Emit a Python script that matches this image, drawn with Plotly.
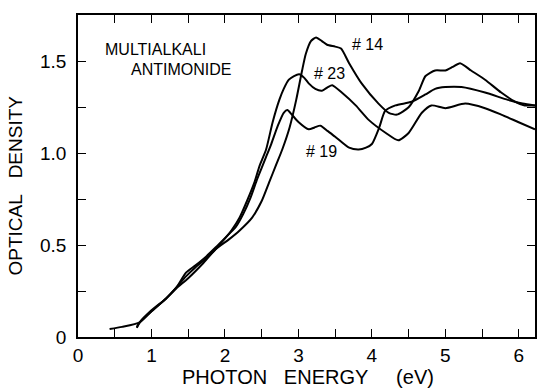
import plotly.graph_objects as go

# Photon energy (eV) and optical density for three samples
x14 = [0.80, 0.84, 1.0, 1.2, 1.34, 1.5, 1.7, 1.88, 2.05, 2.2, 2.37, 2.5, 2.6, 2.7, 2.78, 2.88, 2.97,
       3.05, 3.1, 3.17, 3.24, 3.32, 3.39, 3.5, 3.58, 3.69, 3.86, 4.09, 4.23, 4.34, 4.5, 4.64, 4.73,
       4.86, 5.0, 5.1, 5.2, 5.35, 5.54, 5.76, 5.95, 6.08, 6.22]
y14 = [0.055, 0.08, 0.14, 0.21, 0.265, 0.32, 0.40, 0.48, 0.53, 0.58, 0.65, 0.74, 0.84, 0.94, 1.02,
       1.14, 1.29, 1.45, 1.54, 1.61, 1.63, 1.61, 1.59, 1.58, 1.57, 1.49, 1.38, 1.27, 1.22, 1.21,
       1.25, 1.34, 1.42, 1.45, 1.45, 1.47, 1.49, 1.45, 1.40, 1.33, 1.28, 1.26, 1.26]

x23 = [0.43, 0.6, 0.84, 1.0, 1.2, 1.34, 1.47, 1.6, 1.75, 1.88, 2.03, 2.09, 2.2, 2.3, 2.4, 2.47,
       2.56, 2.65, 2.74, 2.8, 2.87, 2.94, 3.01, 3.08, 3.14, 3.23, 3.32, 3.4, 3.46, 3.59, 3.78,
       3.96, 4.19, 4.36, 4.5, 4.68, 4.81, 5.0, 5.27, 5.54, 5.76, 5.99, 6.22]
y23 = [0.043, 0.055, 0.08, 0.14, 0.21, 0.27, 0.35, 0.39, 0.44, 0.49, 0.55, 0.58, 0.65, 0.74, 0.84,
       0.93, 1.02, 1.17, 1.29, 1.35, 1.40, 1.42, 1.43, 1.41, 1.38, 1.35, 1.34, 1.36, 1.37, 1.33,
       1.26, 1.18, 1.11, 1.07, 1.11, 1.22, 1.26, 1.245, 1.27, 1.245, 1.21, 1.17, 1.13]

x19 = [0.80, 0.84, 1.0, 1.2, 1.34, 1.47, 1.6, 1.75, 1.88, 2.03, 2.15, 2.25, 2.35, 2.43, 2.5, 2.56,
       2.63, 2.72, 2.8, 2.85, 2.91, 3.0, 3.14, 3.22, 3.3, 3.4, 3.5, 3.69, 3.82, 3.92, 4.0, 4.1,
       4.18, 4.32, 4.54, 4.73, 4.86, 5.0, 5.22, 5.54, 5.85, 6.05, 6.22]
y19 = [0.05, 0.08, 0.145, 0.21, 0.27, 0.33, 0.38, 0.43, 0.48, 0.55, 0.60, 0.67, 0.76, 0.85, 0.92,
       0.98, 1.05, 1.15, 1.22, 1.235, 1.21, 1.17, 1.13, 1.14, 1.15, 1.12, 1.09, 1.03, 1.02, 1.03,
       1.05, 1.14, 1.23, 1.26, 1.28, 1.32, 1.35, 1.36, 1.36, 1.33, 1.29, 1.27, 1.26]

x_tickvals = [0, 1, 2, 3, 4, 5, 6]
y_tickvals = [0, 0.5, 1.0, 1.5]
y_ticktext = ["0", "0.5", "1.0", "1.5"]

FONT = "Liberation Sans, Arial, sans-serif"
NB = "\u00a0"

fig = go.Figure()
for xs, ys, name in [(x14, y14, "#14"), (x23, y23, "#23"), (x19, y19, "#19")]:
    fig.add_trace(go.Scatter(x=xs, y=ys, mode="lines", name=name,
                             line=dict(color="black", width=2, shape="spline", smoothing=0.6),
                             showlegend=False, hoverinfo="skip"))

labels = [
    ("MULTIALKALI", 0.34, 1.562, 16),
    ("ANTIMONIDE", 0.70, 1.458, 16),
    ("#" + NB + "14", 3.70, 1.594, 16),
    ("#" + NB + "23", 3.19, 1.436, 16),
    ("#" + NB + "19", 3.08, 1.012, 16),
]
for txt, ax_, ay_, fs in labels:
    fig.add_annotation(x=ax_, y=ay_, text=txt, showarrow=False, xanchor="left", yanchor="middle",
                       font=dict(family=FONT, size=fs, color="black"))

fig.add_annotation(xref="paper", yref="paper", x=0.503, y=-0.124,
                   text="PHOTON" + NB * 3 + "ENERGY" + NB * 5 + "(eV)", showarrow=False,
                   xanchor="center", yanchor="middle",
                   font=dict(family=FONT, size=20, color="black"))
fig.add_annotation(xref="paper", yref="paper", x=-0.136, y=0.47,
                   text="OPTICAL" + NB * 3 + "DENSITY", showarrow=False, textangle=-90,
                   xanchor="center", yanchor="middle",
                   font=dict(family=FONT, size=19, color="black"))

fig.update_xaxes(range=[0, 6.22], tickmode="array", tickvals=x_tickvals,
                 ticks="inside", ticklen=8, tickwidth=1.2, tickcolor="black",
                 minor=dict(ticks="inside", ticklen=8, dtick=0.5, tickwidth=1.2, tickcolor="black"),
                 showline=True, linecolor="black", linewidth=1.5, mirror="ticks",
                 showgrid=False, zeroline=False,
                 tickfont=dict(family=FONT, size=19, color="black"))
fig.update_yaxes(range=[0, 1.752], tickmode="array", tickvals=y_tickvals, ticktext=y_ticktext,
                 ticks="inside", ticklen=8, tickwidth=1.2, tickcolor="black",
                 minor=dict(ticks="inside", ticklen=8, dtick=0.25, tickwidth=1.2, tickcolor="black"),
                 showline=True, linecolor="black", linewidth=1.5, mirror="ticks",
                 showgrid=False, zeroline=False, ticklabelstandoff=6,
                 tickfont=dict(family=FONT, size=19, color="black"))

fig.update_layout(width=538, height=390, margin=dict(l=78, r=1, t=15, b=53),
                  plot_bgcolor="white", paper_bgcolor="white", showlegend=False)

fig.write_html("out.html")
